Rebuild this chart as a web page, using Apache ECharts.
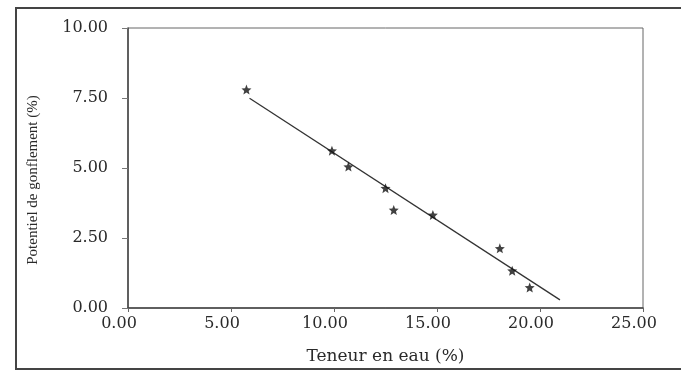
<!DOCTYPE html>
<html>
<head>
<meta charset="utf-8">
<script src="https://cdn.jsdelivr.net/npm/echarts@6/dist/echarts.min.js"></script>
<style>
  html, body { margin: 0; padding: 0; background: #fff; }
  #main { width: 681px; height: 374px; }
</style>
</head>
<body>
<div id="main"></div>
<script>
// mesures : teneur en eau (%) / potentiel de gonflement (%)
var teneurEau = [5.75, 9.9, 10.7, 12.5, 12.9, 14.8, 18.05, 18.65, 19.5];
var gonflement = [7.8, 5.62, 5.05, 4.28, 3.5, 3.32, 2.13, 1.33, 0.73];
// droite de régression (extrémités)
var droiteX = [5.9, 20.97];
var droiteY = [7.49, 0.29];

var myChart = echarts.init(document.getElementById("main"));

var star = "path://M0,-10L2.6,-3.6L9.5,-3.1L4.2,1.4L5.9,8.1L0,4.4L-5.9,8.1L-4.2,1.4L-9.5,-3.1L-2.6,-3.6Z";

function pts(xs, ys) {
  return xs.map(function (x, i) {
    return [x, ys[i]];
  });
}

var option = {
  backgroundColor: "#fff",
  animation: false,
  grid: {
    left: 128,
    right: 38,
    top: 28,
    bottom: 66,
    show: true,
    borderColor: "#666",
    borderWidth: 1,
  },
  graphic: [
    {
      type: "rect",
      shape: { x: 16, y: 8, width: 700, height: 361 },
      style: { fill: null, stroke: "#444", lineWidth: 2 },
      silent: true,
    },
  ],
  xAxis: {
    type: "value",
    min: 0,
    max: 25,
    interval: 5,
    name: "Teneur en eau (%)",
    nameLocation: "middle",
    nameGap: 40,
    nameTextStyle: { fontFamily: "DejaVu Serif", fontSize: 17, color: "#2a2a2a" },
    axisLine: { lineStyle: { color: "#444", width: 1.5 } },
    axisTick: { length: 4, lineStyle: { color: "#666" } },
    splitLine: { show: false },
    axisLabel: {
      margin: 8,
      padding: [0, 18, 0, 0],
      fontFamily: "DejaVu Serif",
      fontSize: 16,
      color: "#2a2a2a",
      formatter: function (v) {
        return v.toFixed(2);
      },
    },
  },
  yAxis: {
    type: "value",
    min: 0,
    max: 10,
    interval: 2.5,
    name: "Potentiel de gonflement (%)",
    nameLocation: "middle",
    nameRotate: 90,
    nameGap: 87,
    nameTextStyle: {
      fontFamily: "Liberation Serif",
      fontSize: 15,
      color: "#2a2a2a",
      padding: [0, 24, 0, 0],
    },
    axisLine: { show: true, lineStyle: { color: "#444", width: 1.5 } },
    axisTick: { show: true, length: 6, lineStyle: { color: "#777" } },
    splitLine: { show: false },
    axisLabel: {
      margin: 20,
      fontFamily: "DejaVu Serif",
      fontSize: 16,
      color: "#2a2a2a",
      formatter: function (v) {
        return v.toFixed(2);
      },
    },
  },
  series: [
    {
      type: "line",
      data: pts(droiteX, droiteY),
      symbol: "none",
      lineStyle: { color: "#333", width: 1.3 },
      z: 2,
    },
    {
      type: "scatter",
      data: pts(teneurEau, gonflement),
      symbol: star,
      symbolSize: 10,
      itemStyle: { color: "#111" },
      z: 3,
    },
  ],
};

myChart.setOption(option);
</script>
</body>
</html>
